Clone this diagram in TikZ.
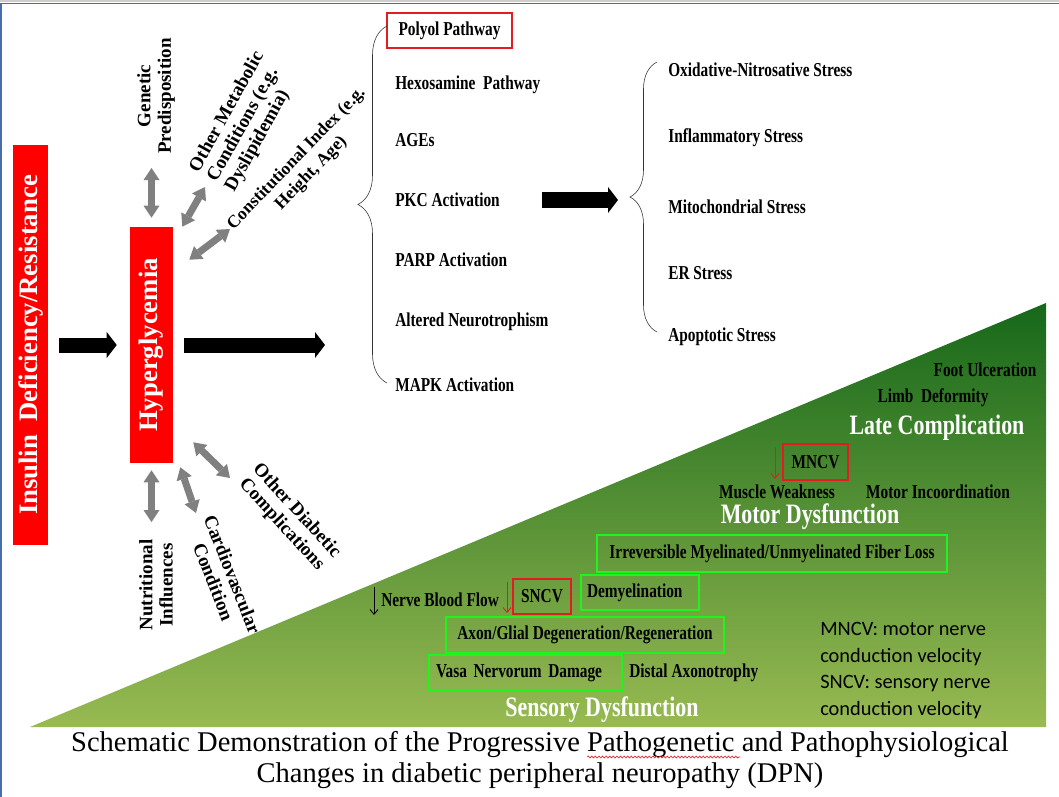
\documentclass[tikz,border=0pt]{standalone}
\usepackage{fontspec}
\setmainfont{Liberation Serif}
\newfontfamily\condfont{Liberation Serif}[FakeStretch=0.78]
\newfontfamily\legendfont{Carlito}
\usetikzlibrary{positioning,arrows.meta,calc,decorations.pathreplacing,decorations.pathmorphing}
\definecolor{barred}{RGB}{255,0,0}
\definecolor{boxred}{RGB}{226,28,32}
\definecolor{boxgreen}{RGB}{30,245,30}
\definecolor{figgrey}{RGB}{128,128,128}
\definecolor{gtop}{RGB}{22,104,26}
\definecolor{gbot}{RGB}{152,186,82}
\definecolor{frameblue}{RGB}{70,110,170}
\definecolor{framegrey}{RGB}{205,205,205}
\tikzset{
  fig/.style={x=0.25mm,y=-0.25mm},
  redbar/.style={fill=barred,text=white,inner sep=0pt,
                 font=\fontsize{19}{19}\selectfont\bfseries},
  item/.style={anchor=west,inner sep=0pt,font=\condfont\fontsize{14}{14}\selectfont\bfseries},
  sidelbl/.style={inner sep=0pt,align=center,font=\fontsize{13.5}{14.5}\selectfont\bfseries},
  gtxt/.style={inner sep=0pt,font=\condfont\fontsize{14}{14}\selectfont\bfseries},
  gtitle/.style={inner sep=0pt,text=white,font=\condfont\fontsize{20}{20}\selectfont\bfseries},
  rbox/.style={draw=boxred,line width=0.5mm},
  gbox/.style={gtxt,draw=boxgreen,line width=0.5mm},
  blockarrow/.style={-{Triangle[length=2.5mm,width=6.5mm,line width=0pt]},line width=3.75mm},
  dbl/.style={{Triangle[length=3mm,width=4mm,line width=0pt]}-{Triangle[length=3mm,width=4mm,line width=0pt]},
              line width=1.75mm,draw=figgrey},
  dn/.style={-{Straight Barb[length=1.2mm,width=2mm]},line width=0.22mm},
  brc/.style={decorate,thin,draw=black!80},
}

\begin{document}
\begin{tikzpicture}[fig]

% Page and frame
\useasboundingbox (0,0) rectangle (1059,797);
\fill[white] (0,0) rectangle (1059,797);
\draw[framegrey,line width=0.5mm] (0,1) -- (1059,1);
\draw[frameblue,line width=0.3mm] (1,797) -- (1,3.5) -- (1059,3.5);

% Green ramp
\shade[top color=gtop,bottom color=gbot] (30,727) -- (1046,727) -- (1046,303) -- cycle;

% Left column: insulin and hyperglycemia
\node[redbar,minimum width=8.75mm,minimum height=100mm] (insulin) at (30.5,345)
  {\rotatebox{90}{Insulin\ \ Deficiency/Resistance}};
\node[redbar,minimum width=10.75mm,minimum height=59mm] (hyper) at (151.5,345)
  {\rotatebox{90}{Hyperglycemia}};
\coordinate (mech) at (325,345);
\draw[blockarrow] ([xshift=2.75mm]insulin.east) -- ([xshift=-3.25mm]hyper.west);
\draw[blockarrow] ([xshift=2.75mm]hyper.east) -- (mech);

% Factors around hyperglycemia
\node[sidelbl,rotate=90] (genetic) at (156,96) {Genetic\\Predisposition};
\node[sidelbl,rotate=61,align=left] (othermet) at (245,122) {Other Metabolic\\Conditions (e.g.\\Dyslipidemia)};
\node[sidelbl,rotate=46,font=\fontsize{12.5}{14.5}\selectfont\bfseries] (constit) at (304,166) {Constitutional Index (e.g.\\Height, Age)};
\node[sidelbl,rotate=90] (nutri) at (156,585) {Nutritional\\Influences};
\node[sidelbl,rotate=-68.5] (cardio) at (223,578) {Cardiovascular\\Condition};
\node[sidelbl,rotate=-47.6] (otherdia) at (289,518) {Other Diabetic\\Complications};

\coordinate (genend) at (151.5,168);
\coordinate (metend) at (205,187);
\coordinate (conend) at (230,229);
\coordinate (nutend) at (151.5,522);
\coordinate (carend) at (196,513);
\coordinate (diaend) at (230,478);
\draw[dbl] ($(hyper.north)+(0,-9)$) -- (genend);
\draw[dbl] ($(hyper.north east)+(9,0)$) -- (metend);
\draw[dbl] ($(hyper.north east)+(16,33)$) -- (conend);
\draw[dbl] ($(hyper.south)+(0,7)$) -- (nutend);
\draw[dbl] ($(hyper.south east)+(7,4)$) -- (carend);
\draw[dbl] ($(hyper.south east)+(20,-21)$) -- (diaend);

% Mechanisms
\node[item,rbox,anchor=center,minimum width=31.25mm,minimum height=8.75mm] (polyol) at (449.5,30.5) {Polyol Pathway};
\node[item] (hexo) at (395,85) {Hexosamine\ \ Pathway};
\node[item] (ages) at (395,140) {AGEs};
\node[item] (pkc) at (395,200) {PKC Activation};
\node[item] (parp) at (395,260) {PARP Activation};
\node[item] (neuro) at (395,322) {Altered Neurotrophism};
\node[item] (mapk) at (395,385) {MAPK Activation};
\draw[brc,decoration={brace,amplitude=7.25mm}] (387,383) -- (387,26);

% Stresses
\node[item] (oxid) at (668,70) {Oxidative-Nitrosative Stress};
\node[item] (infl) at (668,138) {Inflammatory Stress};
\node[item] (mito) at (668,207) {Mitochondrial Stress};
\node[item] (er) at (668,273) {ER Stress};
\node[item] (apop) at (668,337) {Apoptotic Stress};
\draw[brc,decoration={brace,amplitude=6.75mm}] (657,332) -- (657,62);
\coordinate (stresstip) at (630,202);
\draw[blockarrow] ([xshift=10.5mm]pkc.east) -- ($(pkc.east -| stresstip)+(-12,0)$);

% Late complication
\node[gtxt] (foot) at (985,370) {Foot Ulceration};
\node[gtxt] (limb) at (933,398) {Limb\ \ Deformity};
\node[gtitle] (late) at (937,428) {Late Complication};

% Motor dysfunction
\node[gtxt,rbox,minimum width=16.25mm,minimum height=9mm] (mncv) at (815.5,462) {MNCV};
\draw[dn,boxred] ($(mncv.north west)+(-7,4)$) -- ($(mncv.south west)+(-7,-2)$);
\node[gtxt] (muscle) at (777,492) {Muscle Weakness};
\node[gtxt] (incoord) at (938,492) {Motor Incoordination};
\node[gtitle] (motor) at (810,517) {Motor Dysfunction};

% Sensory dysfunction
\node[gbox,minimum width=87.5mm,minimum height=9.25mm] (fiber) at (772,553.5) {Irreversible Myelinated/Unmyelinated Fiber Loss};
\node[gtxt,anchor=west] (nbf) at (381,600) {Nerve Blood Flow};
\draw[dn] ($(nbf.west)+(-7,-13)$) -- ($(nbf.west)+(-7,15)$);
\node[gtxt,rbox,minimum width=14.5mm,minimum height=8.75mm] (sncv) at (542,596.5) {SNCV};
\draw[dn,boxred] ($(sncv.north west)+(-5,4)$) -- ($(sncv.south west)+(-5,-2)$);
\node[gbox,text width=26.5mm,inner xsep=1.5mm,minimum height=8.75mm,align=left] (demyel) at (640,592.5) {Demyelination};
\node[gbox,minimum width=69.5mm,minimum height=9mm] (axon) at (585,635) {Axon/Glial Degeneration/Regeneration};
\node[gbox,text width=44.75mm,inner xsep=1.75mm,minimum height=9mm,align=left] (vasa) at (525.5,673) {Vasa Nervorum Damage};
\node[gtxt,anchor=west] (distal) at (629,673) {Distal Axonotrophy};
\node[gtitle] (sensory) at (602,710) {Sensory Dysfunction};

% Legend
\node[anchor=west,align=left,inner sep=0pt,font=\legendfont\fontsize{14.5}{18.8}\selectfont] (legend) at (820,670.5)
  {MNCV: motor nerve\\conduction velocity\\SNCV: sensory nerve\\conduction velocity};

% Caption
\node[align=center,inner sep=0pt,font=\fontsize{20.3}{22}\selectfont] (caption) at (540,760)
  {Schematic Demonstration of the Progressive Pathogenetic and Pathophysiological\\
   Changes in diabetic peripheral neuropathy (DPN)};
\draw[boxred,line width=0.15mm,decorate,decoration={snake,amplitude=0.25mm,segment length=0.9mm}]
  (587,757) -- (740,757);

\end{tikzpicture}
\end{document}
